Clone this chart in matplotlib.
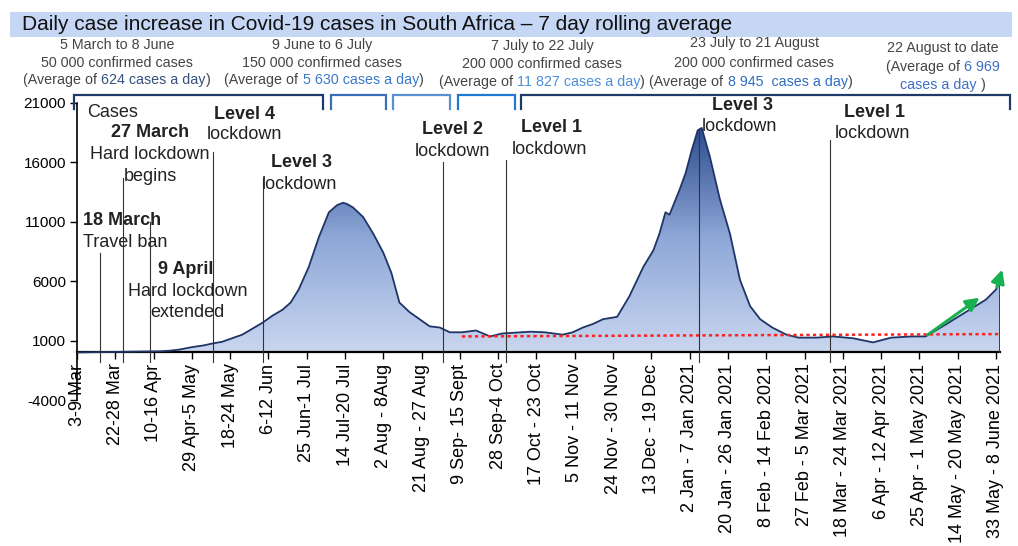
import numpy as np
import matplotlib
matplotlib.use("Agg")
from matplotlib import pyplot as plt
from matplotlib.patches import Polygon, Rectangle
from matplotlib.colors import LinearSegmentedColormap
from matplotlib.offsetbox import TextArea, HPacker, AnnotationBbox

plt.rcParams['font.family'] = ['Liberation Sans', 'DejaVu Sans']

# 7 day rolling average, days counted from 3 March 2020
days = [0, 11, 21, 31, 41, 46, 51, 57, 63, 67, 72, 77, 82, 86, 90, 92, 97, 102, 106,
        110, 115, 120, 125, 129, 132, 134, 137, 142, 147, 152, 156, 160, 165, 170,
        175, 180, 185, 191, 198, 205, 211, 225, 232, 241, 246, 251, 256, 261, 268,
        274, 281, 286, 289, 292, 294, 299, 302, 305, 308, 310, 314, 319, 324, 329,
        334, 339, 345, 352, 358, 367, 375, 385, 395, 404, 414, 421, 431, 441, 451,
        456, 458]
cases = [0, 30, 50, 80, 100, 150, 250, 450, 600, 750, 900, 1200, 1500, 1900, 2300,
         2500, 3100, 3600, 4200, 5300, 7200, 9700, 11800, 12400, 12600, 12500, 12200,
         11400, 10000, 8400, 6700, 4200, 3400, 2800, 2200, 2100, 1700, 1700, 1850,
         1350, 1600, 1750, 1700, 1500, 1700, 2100, 2400, 2800, 3000, 4700, 7200, 8600,
         10000, 11800, 11600, 13700, 15100, 17000, 18700, 18900, 16500, 12900, 10000,
         6100, 3900, 2800, 2100, 1500, 1250, 1250, 1350, 1200, 850, 1250, 1350, 1350,
         2350, 3400, 4450, 5300, 6100]

week_labels = ['3-9 Mar', '22-28 Mar', '10-16 Apr', '29 Apr-5 May', '18-24 May',
               '6-12 Jun', '25 Jun-1 Jul', '14 Jul-20 Jul', '2 Aug - 8Aug',
               '21 Aug - 27 Aug', '9 Sep- 15 Sept', '28 Sep-4 Oct', '17 Oct - 23 Oct',
               '5 Nov - 11 Nov', '24 Nov - 30 Nov', '13 Dec - 19 Dec',
               '2 Jan - 7 Jan 2021', '20 Jan - 26 Jan 2021', '8 Feb - 14 Feb 2021',
               '27 Feb - 5 Mar 2021', '18 Mar - 24 Mar 2021', '6 Apr - 12 Apr 2021',
               '25 Apr - 1 May 2021', '14 May - 20 May 2021', '33 May - 8 June 2021']
week_days = [19 * i for i in range(len(week_labels))]

event_days = [11.4, 22.8, 36.2, 67.4, 92.2, 181.4, 213.1, 308.8, 373.7]
event_tops = [8400, 14700, 11000, 16900, 14700, 16000, 16200, 18700, 17900]

# baseline (red dotted) and trend arrows
base_x = [191, 458]
base_y = [1350, 1550]
arrows = [((421, 1350), (449, 4750)), ((456, 5300), (459.5, 7200))]

periods = [(-2.5, 122.9, '#1f3a68'), (125.4, 154.1, '#3a6fb8'), (156.1, 185.9, '#5b8fd0'),
           (188.4, 218.1, '#1f78d1'), (219.6, 464, '#1f3a68')]

fig = plt.figure(figsize=(10.18, 5.46), dpi=100)
ax = fig.add_axes([77 / 1018, 1 - 400 / 546, 923 / 1018, 297 / 546])

# spines first: moving a spine resets the ticks
ax.spines['bottom'].set_position(('data', 0))
ax.spines['bottom'].set_linewidth(1.6)
ax.spines['left'].set_linewidth(1.2)
ax.spines['top'].set_visible(False)
ax.spines['right'].set_visible(False)
ax.patch.set_alpha(0)

# gradient area under the curve
verts = [(days[0], 0)] + list(zip(days, cases)) + [(days[-1], 0)]
poly = Polygon(verts, closed=True, facecolor='none', edgecolor='none')
ax.add_patch(poly)
cmap = LinearSegmentedColormap.from_list('blu', ['#c9d6ef', '#8fa8d8', '#2c4c8c'])
grad = np.linspace(0, 1, 256).reshape(-1, 1)
im = ax.imshow(grad, extent=[0, 458, 0, 19000], origin='lower', cmap=cmap,
               aspect='auto', zorder=1)
im.set_clip_path(poly)
ax.plot(days, cases, color='#1f3566', lw=1.3, zorder=3)
ax.plot([days[-1], days[-1]], [0, cases[-1]], color='#1f3566', lw=1.3, zorder=3)

ax.plot(base_x, base_y, color='#ff2020', lw=1.8, ls=(0, (1.3, 1.3)), zorder=4)
for (x0, y0), (x1, y1) in arrows:
    ax.annotate('', xy=(x1, y1), xytext=(x0, y0), zorder=5, annotation_clip=False,
                arrowprops=dict(arrowstyle='-|>,head_length=0.8,head_width=0.4',
                                color='#18b050', lw=2.2))

for d, top in zip(event_days, event_tops):
    ax.plot([d, d], [-800, top], color='#333333', lw=0.8, zorder=4, clip_on=False)

# period brackets across the top
for x0, x1, c in periods:
    ax.plot([x0 + 0.8, x0 + 0.8, x1 - 0.8, x1 - 0.8], [20500, 21670, 21670, 20500],
            color=c, lw=1.6, clip_on=False, solid_joinstyle='miter')

# event labels
bold_labels = [('27 March', 36.2, 18480), ('18 March', 3, 11090), ('9 April', 54, 6970),
               ('Level 4', 83.3, 19990), ('Level 3', 111.5, 15960), ('Level 2', 186.4, 18730),
               ('Level 1', 235.4, 18900), ('Level 3', 330, 20830), ('Level 1', 395.5, 20160)]
plain_labels = [('Cases', 5, 20240), ('Hard lockdown', 36.2, 16630), ('begins', 36.2, 14780),
                ('Travel ban', 3, 9240), ('Hard lockdown', 55, 5120), ('extended', 55, 3360),
                ('lockdown', 83.3, 18310), ('lockdown', 110.5, 14110), ('lockdown', 186.4, 16880),
                ('lockdown', 234.4, 17050), ('lockdown', 328.6, 18980), ('lockdown', 394.5, 18400)]
for t, x, y in bold_labels:
    ha = 'left' if t == '18 March' else 'center'
    ax.text(x, y, t, ha=ha, va='center', fontsize=13, fontweight='bold', color='#222222', zorder=6)
for t, x, y in plain_labels:
    ha = 'left' if t in ('Cases', 'Travel ban') else 'center'
    ax.text(x, y, t, ha=ha, va='center', fontsize=13, color='#222222', zorder=6)

ax.set_xlim(0, 458)
ax.set_ylim(-4000, 21000)
ax.set_yticks([-4000, 1000, 6000, 11000, 16000, 21000])
ax.set_yticklabels(['-4000', '1000', '6000', '11000', '16000', '21000'])
ax.set_xticks(week_days)
ax.set_xticklabels(week_labels, rotation=90, ha='center', va='top')
ax.tick_params(axis='both', direction='out', length=5, width=1, labelsize=11,
               colors='black', pad=3)
ax.tick_params(axis='x', labelsize=13)

# title band
fig.patches.append(Rectangle((10 / 1018, 1 - 37 / 546), 1002 / 1018, 25 / 546,
                             transform=fig.transFigure, facecolor='#c6d6f5',
                             edgecolor='none', zorder=0))
fig.text(22 / 1018, 1 - 25 / 546, 'Daily case increase in Covid-19 cases in South Africa \u2013 7 day rolling average',
         fontsize=15, color='#111111', va='center', ha='left')


def colored_line(parts, cx, py):
    boxes = []
    for s, c in parts:
        boxes.append(TextArea(s, textprops=dict(color=c, fontsize=10.3)))
    if len(boxes) > 1:
        tail = HPacker(children=boxes[1:], align='baseline', pad=0, sep=0)
        pack = HPacker(children=[boxes[0], tail], align='baseline', pad=0, sep=3)
    else:
        pack = boxes[0]
    ab = AnnotationBbox(pack, (cx, 546 - py), xycoords='figure pixels', frameon=False,
                        box_alignment=(0.5, 0.5), pad=0)
    fig.add_artist(ab)


grey = '#444444'
colored_line([('5 March to 8 June', grey)], 117, 45)
colored_line([('50 000 confirmed cases', grey)], 117, 63)
colored_line([('(Average of', grey), ('624 cases a day', '#34507e'), (')', grey)], 117, 80)
colored_line([('9 June to 6 July', grey)], 322, 45)
colored_line([('150 000 confirmed cases', grey)], 322, 63)
colored_line([('(Average of', grey), ('5 630 cases a day', '#3a78c8'), (')', grey)], 324, 80)
colored_line([('7 July to 22 July', grey)], 542, 46)
colored_line([('200 000 confirmed cases', grey)], 542, 64)
colored_line([('(Average of', grey), ('11 827 cases a day', '#4a8fdc'), (')', grey)], 542, 82)
colored_line([('23 July to 21 August', grey)], 754, 43)
colored_line([('200 000 confirmed cases', grey)], 754, 63)
colored_line([('(Average of', grey), ('8 945  cases a day', '#2f6ec4'), (')', grey)], 751, 82)
colored_line([('22 August to date', grey)], 943, 48)
colored_line([('(Average of', grey), ('6 969', '#3b6fc6')], 943, 67)
colored_line([('cases a day', '#3b6fc6'), (')', grey)], 943, 85)

fig.savefig('out.png', dpi=100)
